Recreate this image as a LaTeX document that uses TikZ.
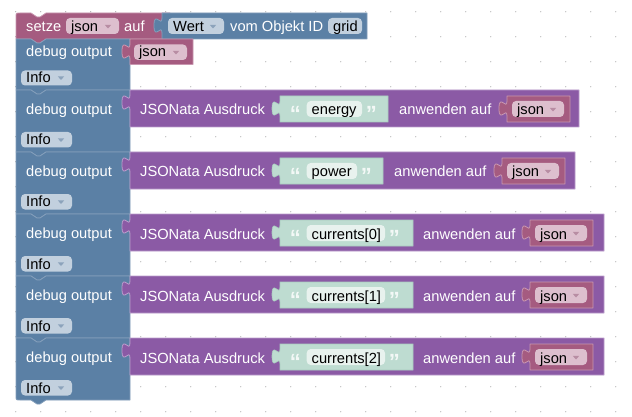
\documentclass[tikz,border=0pt]{standalone}
\usepackage{fontspec}
\setmainfont{Liberation Sans}
\definecolor{pinkB}{HTML}{A55B80}
\definecolor{pinkL}{HTML}{C997B0}
\definecolor{pinkF}{HTML}{DDBFCE}
\definecolor{pinkA}{HTML}{B88DA3}
\definecolor{blueB}{HTML}{5B80A5}
\definecolor{blueL}{HTML}{849FBB}
\definecolor{blueF}{HTML}{C2D0DE}
\definecolor{blueA}{HTML}{8CA3BB}
\definecolor{purpleB}{HTML}{8B5AA5}
\definecolor{purpleL}{HTML}{BB9DCC}
\definecolor{greenB}{HTML}{BEDCD1}
\definecolor{greenL}{HTML}{A9CBBF}
\definecolor{greenF}{HTML}{E8F2EE}
\definecolor{dotc}{HTML}{B4B4B4}
\newcommand\blkout[5]{% style, x, y, w, h
  \filldraw[#1] ({#2},{#3}) -- ({#2+#4},{#3}) -- ({#2+#4},{#3+#5}) -- ({#2},{#3+#5}) -- ({#2},{#3+20})
    .. controls ({#2},{#3+10}) and ({#2-8},{#3+28}) .. ({#2-8},{#3+12.5})
    .. controls ({#2-8},{#3-3}) and ({#2},{#3+15}) .. ({#2},{#3+5}) -- cycle;}
\newcommand\ddarrow[3]{\fill[#1] ({#2-3.2},{#3-1.6}) -- ({#2+3.2},{#3-1.6}) -- ({#2},{#3+2}) -- cycle;}
\tikzset{
  lbl/.style={anchor=base west, inner sep=0pt, text=white, font=\fontsize{14.67}{17}\selectfont},
  ftxt/.style={anchor=base west, inner sep=0pt, text=black, font=\fontsize{14.67}{17}\selectfont},
  qtxt/.style={anchor=base west, inner sep=0pt, text=white, text opacity=0.82, font=\fontsize{22}{22}\selectfont\bfseries},
  fld/.style={rounded corners=4pt},
  stroke/.style={line width=0.8pt, line join=round}
}
\begin{document}
\begin{tikzpicture}[x=1pt,y=-1pt]
\useasboundingbox (0,0) rectangle (632,417);
\fill[white] (0,0) rectangle (632,417);
% grid dots
\foreach \gx in {0,...,24} \foreach \gy in {0,...,16}
  \fill[dotc] ({15.7+25*\gx},{11.7+25*\gy}) circle (0.65);
% setze block
\filldraw[pinkB, draw=pinkL, stroke] (16,17) .. controls (16,13) .. (20,13) -- (31,13) -- (37,17) -- (40,17) -- (46,13)
  -- (170,13) -- (170,39) -- (46,39) -- (40,43) -- (37,43) -- (31,39) -- (16,39) -- cycle;
\node[lbl] (setze) at (26,31.3) {setze};
\fill[pinkF, fld] (66,18) rectangle (119,34);
\node[ftxt] (setzejson) at (71,31.3) {json};
\ddarrow{pinkA}{108}{26.5}
\node[lbl] (auf) at (124,31.3) {auf};
% Wert block
\blkout{blueB, draw=blueL, stroke}{162}{13}{205}{26}
\fill[blueF, fld] (168,18) rectangle (224,34);
\node[ftxt] (wert) at (173,31.3) {Wert};
\ddarrow{blueA}{213}{26.5}
\node[lbl] (vom) at (230,31.3) {vom Objekt ID};
\fill[blueF, fld] (328,18) rectangle (362,34);
\node[ftxt] (grid) at (333,31.3) {grid};
% debug 1
\filldraw[blueB, draw=blueL, stroke] (16,39) -- (31,39) -- (37,43) -- (40,43) -- (46,39) -- (130,39) -- (130,90)
  -- (46,90) -- (40,94) -- (37,94) -- (31,90) -- (16,90) -- cycle;
\node[lbl] (dbg1) at (26,56.7) {debug output};
\blkout{pinkB, draw=pinkL, stroke}{130}{39}{63}{25.5}
\fill[pinkF, fld] (134,44.5) rectangle (187,60);
\node[ftxt] (json1) at (139,56.7) {json};
\ddarrow{pinkA}{176}{52.5}
\fill[blueF, fld] (21,70.5) rectangle (72,85.5);
\node[ftxt] (info1) at (26,83) {Info};
\ddarrow{blueA}{61}{78}
% debug 2..6
\foreach \T/\w/\G/\F/\A/\J/\P [count=\i from 2] in {
  90/energy/388/362/399/507/579,
  152/power/383/357/394/502/575,
  214/{currents[0]}/413/385/423/530/604,
  276/{currents[1]}/413/385/423/530/604,
  338/{currents[2]}/413/385/423/530/604}{
  \ifnum\i=6
    \filldraw[blueB, draw=blueL, stroke] (16,\T) -- (31,\T) -- (37,\T+4) -- (40,\T+4) -- (46,\T) -- (130,\T) -- (130,\T+62)
      -- (46,\T+62) -- (40,\T+66) -- (37,\T+66) -- (31,\T+62) -- (20,\T+62) .. controls (16,\T+62) .. (16,\T+58) -- cycle;
  \else
    \filldraw[blueB, draw=blueL, stroke] (16,\T) -- (31,\T) -- (37,\T+4) -- (40,\T+4) -- (46,\T) -- (130,\T) -- (130,\T+62)
      -- (46,\T+62) -- (40,\T+66) -- (37,\T+66) -- (31,\T+62) -- (16,\T+62) -- cycle;
  \fi
  \node[lbl] (dbg\i) at (26,\T+24.5) {debug output};
  \fill[blueF, fld] (21,\T+42) rectangle (72,\T+57.5);
  \node[ftxt] (info\i) at (26,\T+55) {Info};
  \ddarrow{blueA}{61}{\T+50}
  % JSONata block
  \blkout{purpleB, draw=purpleL, stroke}{130}{\T}{\P-130}{37}
  \node[lbl] (jsonata\i) at (140,\T+25) {JSONata Ausdruck};
  % text block
  \blkout{greenB, draw=greenL, line width=0.6pt}{280}{\T+6}{\G-280}{26}
  \node[qtxt] (oq\i) at (289.6,\T+31.3) {“};
  \fill[greenF, fld] (306.7,\T+11) rectangle (\F,\T+27);
  \node[ftxt] (str\i) at (311.5,\T+25) {\w};
  \node[qtxt] (cq\i) at (\F+3.6,\T+31.3) {”};
  \node[lbl] (anw\i) at (\A,\T+25) {anwenden auf};
  % json variable
  \blkout{pinkB, draw=pinkL, stroke}{\J}{\T+6}{63}{26}
  \fill[pinkF, fld] (\J+5,\T+11) rectangle (\J+57,\T+27);
  \node[ftxt] (var\i) at (\J+10,\T+25) {json};
  \ddarrow{pinkA}{\J+46}{\T+19.5}
}
\end{tikzpicture}
\end{document}
